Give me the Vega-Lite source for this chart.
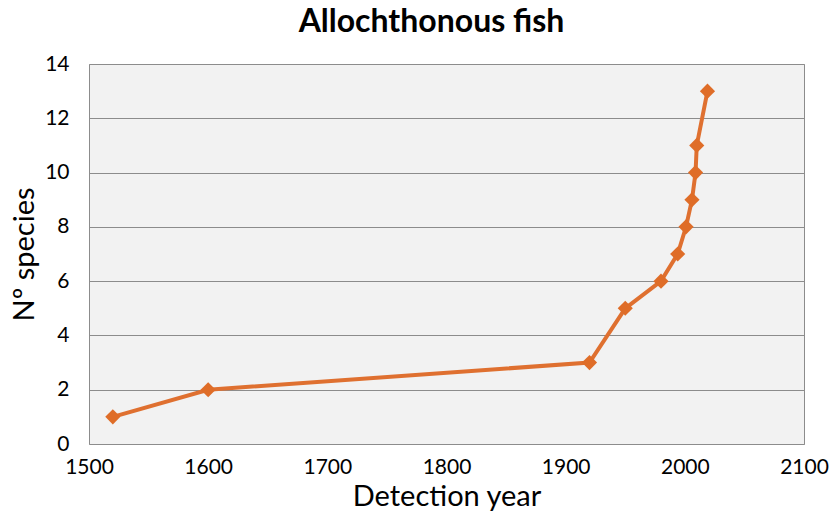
{
  "$schema": "https://vega.github.io/schema/vega-lite/v6.json",
  "width": 715,
  "height": 380,
  "autosize": {"type": "none"},
  "padding": {"left": 89, "top": 64, "right": 28, "bottom": 73},
  "background": "white",
  "title": {"text": "Allochthonous fish", "font": "Lato", "fontSize": 32, "fontWeight": "bold", "color": "#000000", "offset": 14, "anchor": "middle", "dx": -15},
  "config": {
    "view": {"fill": "#f2f2f2", "stroke": "#8c8c8c", "strokeWidth": 1},
    "axis": {"labelFont": "Lato", "titleFont": "Lato", "labelColor": "#000", "titleColor": "#000", "titleFontWeight": "normal"}
  },
  "data": {"values": [
    {"year": 1520, "species": 1},
    {"year": 1600, "species": 2},
    {"year": 1920, "species": 3},
    {"year": 1950, "species": 5},
    {"year": 1980, "species": 6},
    {"year": 1994, "species": 7},
    {"year": 2001, "species": 8},
    {"year": 2006, "species": 9},
    {"year": 2009, "species": 10},
    {"year": 2010, "species": 11},
    {"year": 2019, "species": 13}
  ]},
  "encoding": {
    "x": {"field": "year", "type": "quantitative", "scale": {"domain": [1500, 2100], "nice": false, "zero": false},
      "axis": {"title": "Detection year", "values": [1500,1600,1700,1800,1900,2000,2100], "format": "d", "grid": false, "ticks": false, "domain": false, "labelFlush": false, "labelOverlap": false, "labelFontSize": 21, "labelPadding": 12, "titleFontSize": 29, "titlePadding": 5}},
    "y": {"field": "species", "type": "quantitative", "scale": {"domain": [0, 14], "nice": false},
      "axis": {"title": "Nº species", "values": [0,2,4,6,8,10,12,14], "grid": true, "gridColor": "#8c8c8c", "gridWidth": 1, "ticks": false, "domain": false, "labelFlush": false, "labelOverlap": false, "labelFontSize": 21, "labelPadding": 20, "titleFontSize": 29, "titlePadding": 5}}
  },
  "layer": [
    {"mark": {"type": "line", "color": "#df7030", "strokeWidth": 4}},
    {"mark": {"type": "point", "shape": "diamond", "filled": true, "color": "#df6d28", "opacity": 1, "size": 230}}
  ]
}
